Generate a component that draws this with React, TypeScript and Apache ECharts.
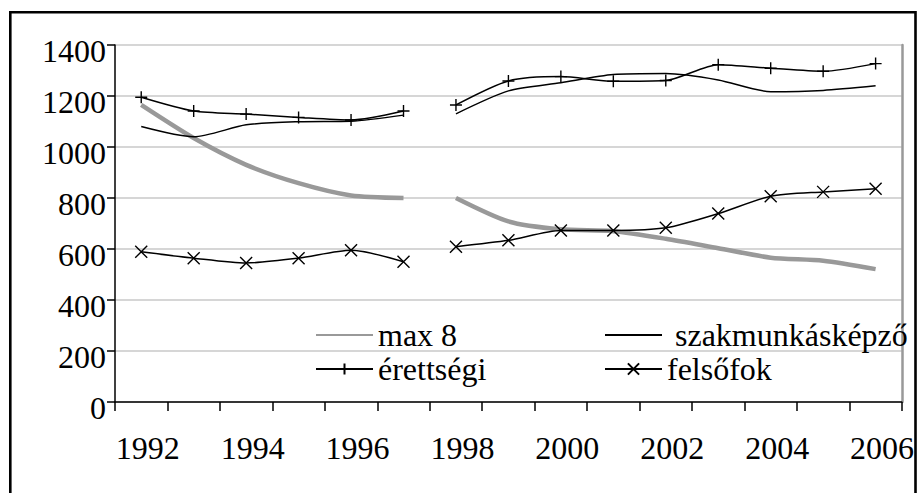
import React, { useEffect, useRef } from "react";
import * as echarts from "echarts";

const YEARS = ["1992", "1993", "1994", "1995", "1996", "1997", "1998", "1999", "2000", "2001", "2002", "2003", "2004", "2005", "2006"];
const MAX8 = [1165, 1035, 930, 858, 810, 800, 800, 708, 677, 670, 640, 603, 566, 554, 521];
const SZAK = [1080, 1040, 1087, 1099, 1101, 1125, 1130, 1220, 1252, 1284, 1288, 1263, 1217, 1222, 1240];
const ERETT = [1195, 1141, 1129, 1116, 1106, 1141, 1165, 1259, 1276, 1258, 1261, 1323, 1309, 1297, 1327];
const FELSO = [589, 564, 545, 564, 595, 550, 609, 634, 673, 673, 683, 739, 807, 824, 836];
const SECOND_SEGMENT_START = "1998";

const NAMES = { max8: "max 8", szak: "szakmunkásképző", erett: "érettségi", felso: "felsőfok" };

const FONT = "Liberation Serif";
const FONT_SIZE = 32;
const PLUS = "path://M5,0L5,10M0,5L10,5";
const CROSS = "path://M0,0L10,10M10,0L0,10";

function part(arr: number[], first: boolean) {
  const br = YEARS.indexOf(SECOND_SEGMENT_START);
  return arr.map((v, i) => ((first ? i < br : i >= br) ? v : "-"));
}

function lineSeries(name: string, values: number[], style: any) {
  return [true, false].map((first) => ({
    type: "line",
    name,
    data: part(values, first),
    smooth: 0.25,
    ...style,
  }));
}

export default function App() {
  const ref = useRef<HTMLDivElement>(null);
  useEffect(() => {
    if (!ref.current) return;
    const chart = echarts.init(ref.current, null, { renderer: "svg" });
    const blackMarker = (sym: string) => ({
      symbol: sym,
      symbolSize: 12,
      showAllSymbol: true,
      itemStyle: { color: "#000", borderColor: "#000", borderWidth: 1.4 },
      lineStyle: { color: "#000", width: 1.5 },
    });
    const legendCommon = {
      orient: "vertical",
      itemWidth: 57,
      itemHeight: 14,
      itemGap: 2,
      selectedMode: false,
      textStyle: { fontFamily: FONT, fontSize: FONT_SIZE, lineHeight: FONT_SIZE, color: "#000" },
    };
    const noSymbol = { opacity: 0 };
    chart.setOption({
      animation: false,
      backgroundColor: "#fff",
      grid: { left: 115, top: 45, width: 790, height: 357 },
      xAxis: {
        type: "category",
        data: YEARS,
        boundaryGap: true,
        axisLine: { show: true, onZero: false, lineStyle: { color: "#000", width: 1.5 } },
        axisTick: { show: true, interval: 0, length: 9, lineStyle: { color: "#000", width: 1.5 } },
        axisLabel: {
          interval: 1,
          margin: 30,
          fontFamily: FONT,
          fontSize: FONT_SIZE,
          lineHeight: FONT_SIZE,
          color: "#000",
          padding: [0, 0, 0, 13],
        },
        splitLine: { show: false },
      },
      yAxis: [
        {
          type: "value",
          min: 0,
          max: 1400,
          interval: 200,
          axisLine: { show: true, lineStyle: { color: "#000", width: 1.5 } },
          axisTick: { show: true, length: 8, lineStyle: { color: "#000", width: 1.5 } },
          axisLabel: {
            margin: 9,
            fontFamily: FONT,
            fontSize: FONT_SIZE,
            lineHeight: 12,
            verticalAlign: "top",
            showMinLabel: true,
            showMaxLabel: true,
            color: "#000",
            formatter: (v: number) => String(v),
          },
          splitLine: { show: true, showMinLine: true, showMaxLine: true, lineStyle: { color: "#c8c8c8", width: 1.5 } },
        },
        {
          type: "value",
          position: "right",
          min: 0,
          max: 1400,
          interval: 200,
          axisLine: { show: true, lineStyle: { color: "#999", width: 2.5 } },
          axisTick: { show: false },
          axisLabel: { show: false },
          splitLine: { show: false },
        },
      ],
      legend: [
        {
          ...legendCommon,
          left: 310,
          top: 314,
          data: [{ name: NAMES.max8, itemStyle: noSymbol }, { name: NAMES.erett }],
        },
        {
          ...legendCommon,
          left: 599,
          top: 314,
          data: [
            { name: NAMES.szak, itemStyle: noSymbol, textStyle: { padding: [0, 0, 0, 8] } },
            { name: NAMES.felso },
          ],
        },
      ],
      series: [
        ...lineSeries(NAMES.max8, MAX8, {
          symbol: "none",
          lineStyle: { color: "#999999", width: 4.5 },
          itemStyle: { color: "#999999" },
        }),
        ...lineSeries(NAMES.szak, SZAK, {
          symbol: "none",
          lineStyle: { color: "#000", width: 1.5 },
          itemStyle: { color: "#000" },
        }),
        ...lineSeries(NAMES.erett, ERETT, blackMarker(PLUS)),
        ...lineSeries(NAMES.felso, FELSO, blackMarker(CROSS)),
      ],
      graphic: [
        {
          type: "rect",
          z: 100,
          silent: true,
          shape: { x: 10.3, y: 12.2, width: 905.2, height: 495 },
          style: { fill: "none", stroke: "#000", lineWidth: 2.6 },
        },
      ],
    });
    return () => chart.dispose();
  }, []);
  return <div ref={ref} style={{ position: "fixed", left: 0, top: 0, width: 917, height: 493 }} />;
}
